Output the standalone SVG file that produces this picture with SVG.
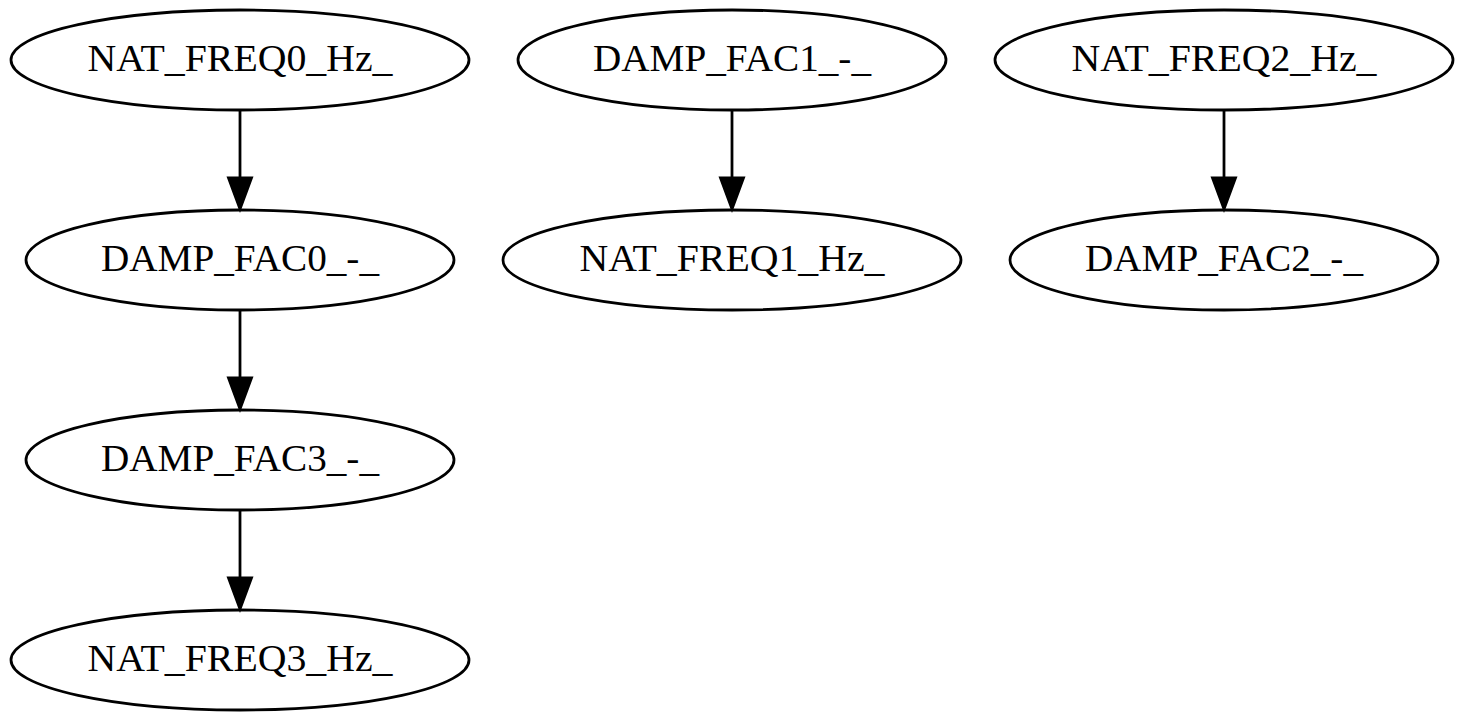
<svg xmlns="http://www.w3.org/2000/svg" width="1464" height="722" viewBox="0 0 1464 722">
<style>
.node ellipse{fill:none;stroke:#000;stroke-width:2.78}
.node text{font-family:"Liberation Serif","Times New Roman",serif;font-size:38.9px;text-anchor:middle;fill:#000}
.edge line{stroke:#000;stroke-width:2.78}
.edge polygon{fill:#000;stroke:#000;stroke-width:2.78}
</style>
<rect width="1464" height="722" fill="#fff"/>
<g id="edges">
<g class="edge"><line x1="240" y1="110" x2="240" y2="178"/><polygon points="228.5,178 251.5,178 240,209"/></g>
<g class="edge"><line x1="240" y1="310" x2="240" y2="378"/><polygon points="228.5,378 251.5,378 240,409"/></g>
<g class="edge"><line x1="240" y1="510" x2="240" y2="578"/><polygon points="228.5,578 251.5,578 240,609"/></g>
<g class="edge"><line x1="732" y1="110" x2="732" y2="178"/><polygon points="720.5,178 743.5,178 732,209"/></g>
<g class="edge"><line x1="1224" y1="110" x2="1224" y2="178"/><polygon points="1212.5,178 1235.5,178 1224,209"/></g>
</g>
<g id="NAT_FREQ0" class="node"><ellipse cx="240" cy="60" rx="229" ry="50"/><text x="240" y="71" textLength="305" lengthAdjust="spacingAndGlyphs">NAT_FREQ0_Hz_</text></g>
<g id="DAMP_FAC0" class="node"><ellipse cx="240" cy="260" rx="214" ry="50"/><text x="240" y="271" textLength="278" lengthAdjust="spacingAndGlyphs">DAMP_FAC0_-_</text></g>
<g id="DAMP_FAC3" class="node"><ellipse cx="240" cy="460" rx="214" ry="50"/><text x="240" y="471" textLength="278" lengthAdjust="spacingAndGlyphs">DAMP_FAC3_-_</text></g>
<g id="NAT_FREQ3" class="node"><ellipse cx="240" cy="660" rx="229" ry="50"/><text x="240" y="671" textLength="305" lengthAdjust="spacingAndGlyphs">NAT_FREQ3_Hz_</text></g>
<g id="DAMP_FAC1" class="node"><ellipse cx="732" cy="60" rx="214" ry="50"/><text x="732" y="71" textLength="278" lengthAdjust="spacingAndGlyphs">DAMP_FAC1_-_</text></g>
<g id="NAT_FREQ1" class="node"><ellipse cx="732" cy="260" rx="229" ry="50"/><text x="732" y="271" textLength="305" lengthAdjust="spacingAndGlyphs">NAT_FREQ1_Hz_</text></g>
<g id="NAT_FREQ2" class="node"><ellipse cx="1224" cy="60" rx="229" ry="50"/><text x="1224" y="71" textLength="305" lengthAdjust="spacingAndGlyphs">NAT_FREQ2_Hz_</text></g>
<g id="DAMP_FAC2" class="node"><ellipse cx="1224" cy="260" rx="214" ry="50"/><text x="1224" y="271" textLength="278" lengthAdjust="spacingAndGlyphs">DAMP_FAC2_-_</text></g>
</svg>
